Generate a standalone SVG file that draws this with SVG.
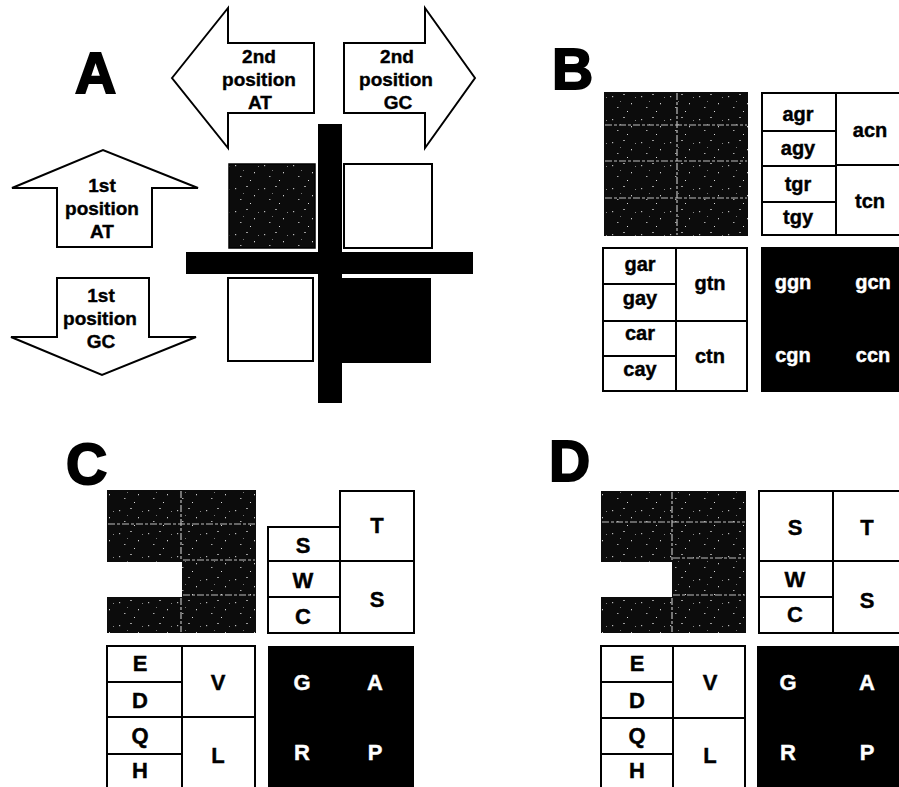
<svg xmlns="http://www.w3.org/2000/svg" width="899" height="787" viewBox="0 0 899 787">
<defs>
<pattern id="noise" width="29" height="23" patternUnits="userSpaceOnUse">
<rect width="29" height="23" fill="#0c0c0c"/>
<rect x="3" y="4" width="1.2" height="1.2" fill="#bbb"/>
<rect x="14" y="2" width="2" height="1" fill="#999"/>
<rect x="22" y="11" width="1" height="1.3" fill="#ccc"/>
<rect x="8" y="15" width="1.5" height="1" fill="#aaa"/>
<rect x="18" y="19" width="1" height="1" fill="#ddd"/>
<rect x="26" y="5" width="1" height="1" fill="#888"/>
<rect x="11" y="9" width="1" height="1" fill="#777"/>
</pattern>
<style>
.arrow{fill:#fff;stroke:#000;stroke-width:2;stroke-linejoin:miter}
.cell{fill:#fff;stroke:#000;stroke-width:2}
.line{stroke:#000;stroke-width:2;fill:none}
.blk{fill:#000}
.dark{fill:url(#noise)}
.grid{stroke:#bdbdbd;stroke-width:1.2;stroke-dasharray:7 2 3 2;fill:none}
text{font-family:"Liberation Sans",Arial,Helvetica,sans-serif;font-weight:bold;text-anchor:middle;fill:#000;stroke:#000;stroke-width:0.4}
.big{font-size:57px;text-anchor:start;stroke-width:2}
.lab{font-size:19px}
.cd{font-size:20px}
.cap{font-size:22px}
.w{fill:#fff;stroke:#fff}
</style>
</defs>
<rect width="899" height="787" fill="#fff"/>

<!-- Panel A -->
<g id="panel-A">
<text class="big" x="75" y="93">A</text>
<g id="arrow-2nd-AT">
<path class="arrow" d="M172,78 L228,8 L228,43 L314,43 L314,113 L228,113 L228,148 Z"/>
<text class="lab" x="259" y="63">2nd</text>
<text class="lab" x="259" y="86">position</text>
<text class="lab" x="260" y="109">AT</text>
</g>
<g id="arrow-2nd-GC">
<path class="arrow" d="M475,78 L425,8 L425,43 L344,43 L344,113 L425,113 L425,148 Z"/>
<text class="lab" x="397" y="63">2nd</text>
<text class="lab" x="396" y="86">position</text>
<text class="lab" x="398" y="109">GC</text>
</g>
<g id="arrow-1st-AT">
<path class="arrow" d="M57,247 L57,188 L12,188 L103,150 L198,188 L152,188 L152,247 Z"/>
<text class="lab" x="102" y="192">1st</text>
<text class="lab" x="102" y="215">position</text>
<text class="lab" x="102" y="238">AT</text>
</g>
<g id="arrow-1st-GC">
<path class="arrow" d="M57,278 L149,278 L149,337 L196,337 L102,375 L11,337 L57,337 Z"/>
<text class="lab" x="101" y="302">1st</text>
<text class="lab" x="100" y="325">position</text>
<text class="lab" x="101" y="348">GC</text>
</g>
<g id="cross">
<rect class="blk" x="318" y="124" width="24" height="279"/>
<rect class="blk" x="186" y="252" width="287" height="22"/>
</g>
<g id="A-squares">
<rect class="dark" x="229" y="164" width="86" height="84" stroke="#000" stroke-width="1.5"/>
<rect class="cell" x="344" y="164" width="88" height="84"/>
<rect class="cell" x="228" y="278" width="85" height="83"/>
<rect class="blk" x="342" y="278" width="89" height="85"/>
</g>
</g>

<!-- Panel B -->
<g id="panel-B">
<text class="big" x="552" y="89">B</text>
<g id="B-dark">
<rect class="dark" x="604" y="92" width="144" height="144"/>
<path class="grid" d="M677,93 V235 M605,125 H747 M605,161 H747 M605,198 H747"/>
</g>
<g id="B-table-top">
<rect class="cell" x="762" y="93" width="145" height="142"/>
<path class="line" d="M836,93 V235 M762,131 H836 M762,166 H836 M762,202 H836 M836,165 H907"/>
<text class="cd" x="798" y="121">agr</text>
<text class="cd" x="798" y="155">agy</text>
<text class="cd" x="798" y="191">tgr</text>
<text class="cd" x="798" y="224">tgy</text>
<text class="cd" x="870" y="137">acn</text>
<text class="cd" x="870" y="208">tcn</text>
</g>
<g id="B-table-bottom">
<rect class="cell" x="603" y="248" width="144" height="143"/>
<path class="line" d="M676,248 V391 M603,284 H676 M603,321 H747 M603,356 H676"/>
<text class="cd" x="640" y="271">gar</text>
<text class="cd" x="640" y="305">gay</text>
<text class="cd" x="640" y="340">car</text>
<text class="cd" x="640" y="376">cay</text>
<text class="cd" x="710" y="290">gtn</text>
<text class="cd" x="710" y="363">ctn</text>
</g>
<g id="B-black">
<rect class="blk" x="761" y="247" width="146" height="145"/>
<text class="cd w" x="793" y="289">ggn</text>
<text class="cd w" x="873" y="289">gcn</text>
<text class="cd w" x="793" y="362">cgn</text>
<text class="cd w" x="873" y="362">ccn</text>
</g>
</g>

<!-- Panel C -->
<g id="panel-C">
<text class="big" x="66" y="484">C</text>
<g id="C-dark">
<path class="dark" d="M107,490 H256 V633 H107 V597 H182 V562 H107 Z"/>
<path class="grid" d="M181,491 V561 M181,598 V632 M108,524 H255 M183,560 H255 M183,595 H255"/>
</g>
<g id="C-table-top">
<rect class="cell" x="268" y="527" width="72" height="106"/>
<rect class="cell" x="340" y="491" width="74" height="142"/>
<path class="line" d="M268,561 H414 M268,597 H340"/>
<text class="cap" x="303" y="553">S</text>
<text class="cap" x="377" y="533">T</text>
<text class="cap" x="303" y="588">W</text>
<text class="cap" x="303" y="624">C</text>
<text class="cap" x="377" y="607">S</text>
</g>
<g id="C-table-bottom">
<rect class="cell" x="107" y="646" width="148" height="150"/>
<path class="line" d="M182,646 V796 M107,682 H182 M107,717 H255 M107,754 H182"/>
<text class="cap" x="140" y="671">E</text>
<text class="cap" x="140" y="708">D</text>
<text class="cap" x="140" y="743">Q</text>
<text class="cap" x="140" y="778">H</text>
<text class="cap" x="218" y="690">V</text>
<text class="cap" x="218" y="763">L</text>
</g>
<g id="C-black">
<rect class="blk" x="268" y="646" width="146" height="150"/>
<text class="cap w" x="302" y="690">G</text>
<text class="cap w" x="375" y="690">A</text>
<text class="cap w" x="302" y="760">R</text>
<text class="cap w" x="375" y="760">P</text>
</g>
</g>

<!-- Panel D -->
<g id="panel-D">
<text class="big" x="549" y="481">D</text>
<g id="D-dark">
<path class="dark" d="M601,491 H746 V633 H601 V597 H672 V562 H601 Z"/>
<path class="grid" d="M672,492 V561 M672,598 V632 M602,522 H745 M673,558 H745 M673,595 H745"/>
</g>
<g id="D-table-top">
<rect class="cell" x="759" y="491" width="148" height="142"/>
<path class="line" d="M833,491 V633 M759,561 H907 M759,597 H833"/>
<text class="cap" x="795" y="535">S</text>
<text class="cap" x="867" y="535">T</text>
<text class="cap" x="795" y="587">W</text>
<text class="cap" x="795" y="622">C</text>
<text class="cap" x="867" y="608">S</text>
</g>
<g id="D-table-bottom">
<rect class="cell" x="601" y="646" width="144" height="150"/>
<path class="line" d="M673,646 V796 M601,682 H673 M601,718 H745 M601,754 H673"/>
<text class="cap" x="637" y="671">E</text>
<text class="cap" x="637" y="708">D</text>
<text class="cap" x="637" y="743">Q</text>
<text class="cap" x="637" y="778">H</text>
<text class="cap" x="710" y="690">V</text>
<text class="cap" x="710" y="763">L</text>
</g>
<g id="D-black">
<rect class="blk" x="757" y="646" width="150" height="150"/>
<text class="cap w" x="788" y="690">G</text>
<text class="cap w" x="867" y="690">A</text>
<text class="cap w" x="788" y="760">R</text>
<text class="cap w" x="867" y="760">P</text>
</g>
</g>
</svg>
